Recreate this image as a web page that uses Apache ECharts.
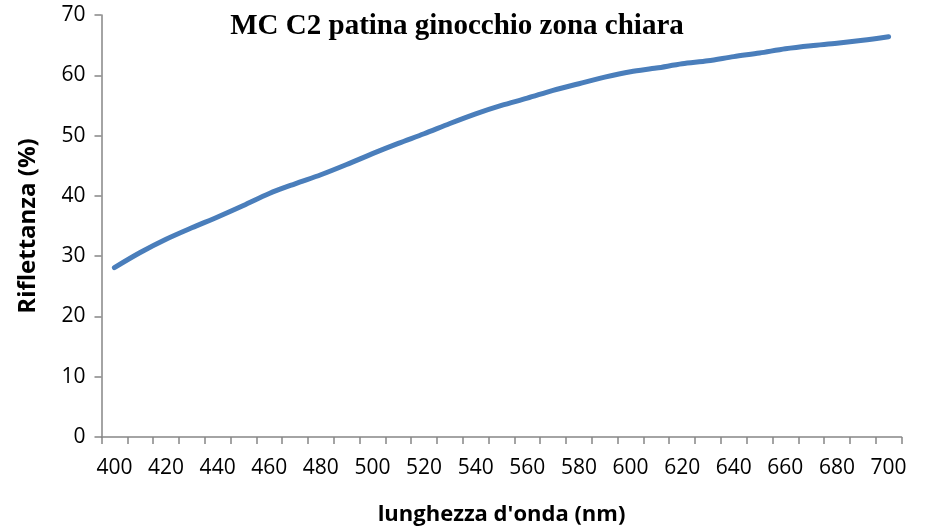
<!DOCTYPE html>
<html>
<head>
<meta charset="utf-8">
<script src="https://cdn.jsdelivr.net/npm/echarts@6/dist/echarts.min.js"></script>
<style>html,body{margin:0;padding:0;background:#fff}#c{width:926px;height:531px}</style>
</head>
<body>
<div id="c"></div>
<script>
const wavelengths = [400,410,420,430,440,450,460,470,480,490,500,510,520,530,540,550,560,570,580,590,600,610,620,630,640,650,660,670,680,690,700];
const reflectance = [28.1,30.6,32.8,34.7,36.5,38.4,40.4,42.0,43.5,45.2,47.0,48.7,50.3,52.0,53.6,55.0,56.2,57.5,58.6,59.7,60.6,61.2,61.9,62.4,63.1,63.7,64.4,64.9,65.3,65.8,66.4];
const yTicks = [0,10,20,30,40,50,60,70];
const titleText = 'MC C2 patina ginocchio zona chiara';
const xName = "lunghezza d'onda (nm)";
const yName = 'Riflettanza (%)';

const chart = echarts.init(document.getElementById('c'));
chart.setOption({
  animation: false,
  title: {
    text: titleText,
    left: 452, top: 7, textAlign: 'center',
    textStyle: { fontFamily: 'Liberation Serif', fontWeight: 'bold', fontSize: 29, color: '#000' }
  },
  grid: { left: 101.5, right: 24.5, top: 15, bottom: 93, containLabel: false },
  xAxis: {
    type: 'category',
    data: wavelengths.map(String),
    boundaryGap: true,
    name: xName, nameLocation: 'middle', nameGap: 67,
    nameTextStyle: { fontFamily: 'Open Sans', fontWeight: 'bold', fontSize: 22, color: '#000' },
    axisLine: { lineStyle: { color: '#868686', width: 1.5 } },
    axisTick: { show: true, interval: 0, length: 7, lineStyle: { color: '#868686', width: 1.5 } },
    axisLabel: { interval: 1, margin: 21, fontFamily: 'Open Sans', fontSize: 21, color: '#000' },
    splitLine: { show: false }
  },
  yAxis: {
    type: 'value', min: yTicks[0], max: yTicks[yTicks.length-1], interval: 10,
    name: yName, nameLocation: 'middle', nameGap: 61, nameRotate: 90,
    nameTextStyle: { fontFamily: 'Open Sans', fontWeight: 'bold', fontSize: 24, color: '#000' },
    axisLine: { show: true, lineStyle: { color: '#868686', width: 1.5 } },
    axisTick: { show: true, length: 7, lineStyle: { color: '#868686', width: 1.5 } },
    axisLabel: { margin: 16, fontFamily: 'Open Sans', fontSize: 21, color: '#000' },
    splitLine: { show: false }
  },
  series: [{
    type: 'line',
    data: reflectance,
    smooth: 0.3,
    showSymbol: false,
    lineStyle: { color: '#4A7EBB', width: 5, cap: 'round', join: 'round' }
  }]
});
</script>
</body>
</html>
